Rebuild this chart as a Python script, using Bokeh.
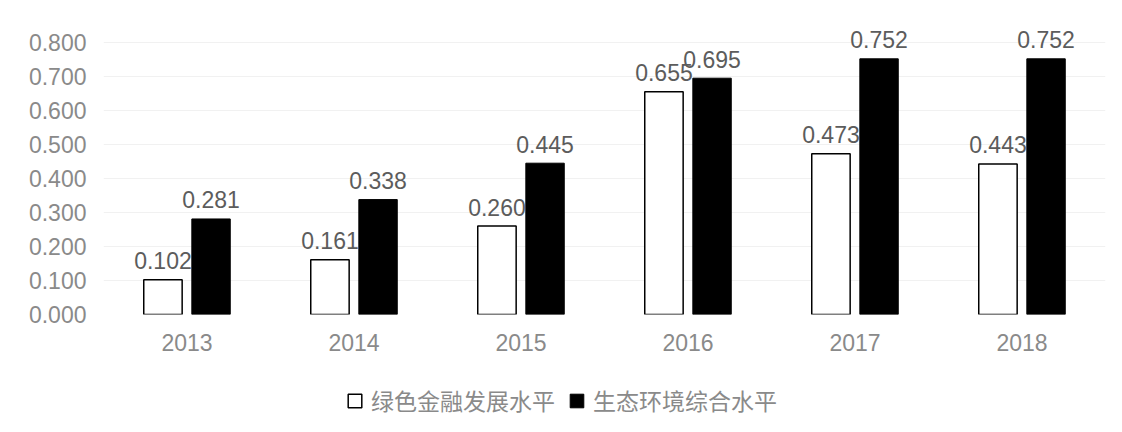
import numpy as np
from bokeh.plotting import figure
from bokeh.layouts import column
from bokeh.models import (ColumnDataSource, FactorRange, Range1d, FixedTicker,
                          Legend, LegendItem, CustomJSTickFormatter)
from bokeh.transform import dodge
from bokeh.core.properties import value
from bokeh.embed import file_html
from bokeh.resources import INLINE

years = ["2013", "2014", "2015", "2016", "2017", "2018"]
green_finance = [0.102, 0.161, 0.260, 0.655, 0.473, 0.443]
eco_env = [0.281, 0.338, 0.445, 0.695, 0.752, 0.752]
y_ticks = [0.0, 0.1, 0.2, 0.3, 0.4, 0.5, 0.6, 0.7, 0.8]
series_names = ["绿色金融发展水平", "生态环境综合水平"]

source = ColumnDataSource(dict(
    year=years,
    g=green_finance,
    e=eco_env,
    g_lbl=[f"{v:.3f}" for v in green_finance],
    e_lbl=[f"{v:.3f}" for v in eco_env],
))

FONT = "Liberation Sans"
WHITE_STYLE = dict(fill_color="white", line_color="black", line_width=1.5)
BLACK_STYLE = dict(fill_color="black", line_color="black", line_width=1)

p = figure(width=1122, height=368, x_range=FactorRange(*years),
           y_range=Range1d(0, 0.9), output_backend="svg",
           toolbar_location=None, min_border_left=103, min_border_right=17,
           min_border_top=8, min_border_bottom=54)
p.outline_line_color = None
p.background_fill_color = "white"
p.border_fill_color = "white"

bw = 0.23
off = 0.144
p.vbar(x=dodge("year", -off, range=p.x_range), top="g", width=bw,
       source=source, **WHITE_STYLE)
p.vbar(x=dodge("year", off, range=p.x_range), top="e", width=bw,
       source=source, **BLACK_STYLE)

for col, lbl, o in (("g", "g_lbl", -off), ("e", "e_lbl", off)):
    p.text(x=dodge("year", o, range=p.x_range), y=col, text=lbl, source=source,
           text_align="center", text_baseline="alphabetic", y_offset=-19,
           text_font=value(FONT), text_font_size="23px", text_color="#5c5c5c")

# axes
p.yaxis.ticker = FixedTicker(ticks=y_ticks)
p.yaxis.formatter = CustomJSTickFormatter(code="return tick.toFixed(3);")
for ax in (p.xaxis[0], p.yaxis[0]):
    ax.axis_line_color = None
    ax.major_tick_line_color = None
    ax.minor_tick_line_color = None
    ax.major_tick_out = 0
    ax.major_tick_in = 0
    ax.major_label_text_font = FONT
    ax.major_label_text_font_size = "23px"
    ax.major_label_text_color = "#8a8a8a"
p.yaxis.major_label_standoff = 17
p.xaxis.major_label_standoff = 19

p.xgrid.grid_line_color = None
p.ygrid.grid_line_color = "#f1f1f1"
p.ygrid.grid_line_width = 1

# legend strip below the chart
lf = figure(width=1122, height=64, x_range=Range1d(0, 1), y_range=Range1d(0, 1),
            output_backend="svg", toolbar_location=None,
            x_axis_location=None, y_axis_location=None,
            min_border=0, min_border_left=0, min_border_right=0,
            min_border_top=0, min_border_bottom=0)
lf.outline_line_color = None
lf.xgrid.grid_line_color = None
lf.ygrid.grid_line_color = None
dummy = ColumnDataSource(dict(x=np.array([np.nan]), top=np.array([np.nan])))
lr1 = lf.vbar(x="x", top="top", width=0.1, source=dummy, **WHITE_STYLE)
lr2 = lf.vbar(x="x", top="top", width=0.1, source=dummy, **BLACK_STYLE)

legend = Legend(items=[LegendItem(label=series_names[0], renderers=[lr1]),
                       LegendItem(label=series_names[1], renderers=[lr2])],
                orientation="horizontal", location=(243, 15),
                glyph_width=17, glyph_height=17, label_standoff=8, spacing=13,
                label_text_font="Noto Sans CJK SC", label_text_font_size="23px",
                label_text_color="#8a8a8a", background_fill_alpha=0,
                border_line_color=None, margin=0, padding=4)
lf.add_layout(legend, "center")

layout = column(p, lf, spacing=0)
open("out.html", "w").write(file_html(layout, INLINE))
